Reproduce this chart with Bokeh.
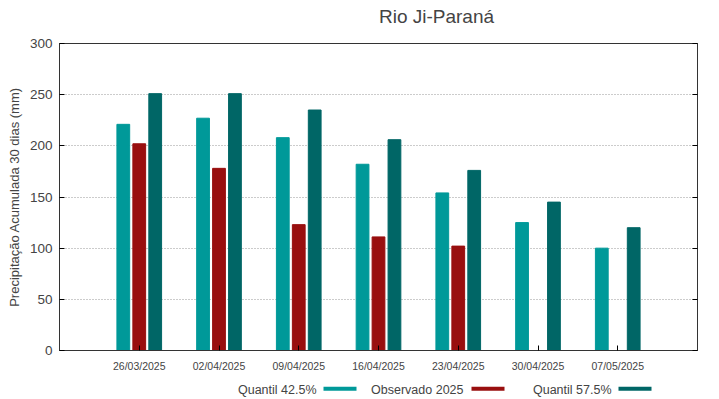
from bokeh.plotting import figure
from bokeh.layouts import column
from bokeh.models import (ColumnDataSource, FactorRange, Range1d, LinearAxis,
                          FixedTicker, Label, BoxAnnotation)
from bokeh.transform import dodge
from bokeh.embed import file_html
from bokeh.resources import INLINE
import numpy as np

title = "Rio Ji-Paraná"
dates = ["26/03/2025", "02/04/2025", "09/04/2025", "16/04/2025",
         "23/04/2025", "30/04/2025", "07/05/2025"]
q425 = [221, 227, 208, 182, 154, 125, 100]
obs2025 = [202, 178, 123, 111, 102, np.nan, np.nan]
q575 = [251, 251, 235, 206, 176, 145, 120]
yticks = [0, 50, 100, 150, 200, 250, 300]

names = ["Quantil 42.5%", "Observado 2025", "Quantil 57.5%"]
colors = ["#009999", "#990f0f", "#006666"]

FONT = "Liberation Sans"
W = 705


def strip_fig(height):
    f = figure(width=W, height=height, title=None, x_range=Range1d(0, 1), y_range=Range1d(0, 1),
               x_axis_location=None, y_axis_location=None, min_border=0,
               output_backend="svg", toolbar_location=None)
    f.outline_line_color = None
    f.grid.grid_line_color = None
    return f


# ---- title strip ----
tfig = strip_fig(30)
tfig.add_layout(Label(x=377, y=14, x_units="screen", y_units="screen", text=title,
                      text_align="center", text_baseline="middle",
                      text_font=FONT, text_font_size="19px"))

# ---- main chart ----
src = ColumnDataSource(dict(date=dates, q425=q425, obs=obs2025, q575=q575))

p = figure(x_range=FactorRange(*dates, range_padding=0.5, range_padding_units="absolute"),
           y_range=Range1d(0, 300), title=None,
           frame_width=638, frame_height=307, output_backend="svg", toolbar_location=None,
           min_border_left=59, min_border_right=8, min_border_top=13, min_border_bottom=30)

w = 0.16
p.vbar(x=dodge("date", -0.2, range=p.x_range), top="q425", width=w, source=src,
       fill_color=colors[0], line_color=colors[0])
p.vbar(x=dodge("date", 0.0, range=p.x_range), top="obs", width=w, source=src,
       fill_color=colors[1], line_color=colors[1])
p.vbar(x=dodge("date", 0.2, range=p.x_range), top="q575", width=w, source=src,
       fill_color=colors[2], line_color=colors[2])

p.outline_line_color = "#333333"
p.outline_line_width = 1

p.xgrid.grid_line_color = None
p.ygrid.grid_line_color = "#999999"
p.ygrid.grid_line_dash = "1 2"
p.ygrid.ticker = FixedTicker(ticks=yticks[1:-1])

p.yaxis.ticker = FixedTicker(ticks=yticks)
p.yaxis.axis_label = "Precipitação Acumulada 30 dias (mm)"
p.yaxis.axis_label_text_font = FONT
p.yaxis.axis_label_text_font_size = "13px"
p.yaxis.axis_label_text_font_style = "normal"
p.yaxis.major_label_text_font = FONT
p.yaxis.major_label_text_font_size = "13.5px"
p.yaxis.major_label_standoff = 7
p.yaxis.major_tick_in = 5
p.yaxis.major_tick_out = 0
p.yaxis.minor_tick_line_color = None
p.yaxis.axis_line_color = "#333333"
p.yaxis.axis_label_standoff = 5

p.xaxis.major_label_text_font = FONT
p.xaxis.major_label_text_font_size = "10.5px"
p.xaxis.major_label_standoff = 9
p.xaxis.major_tick_in = 5
p.xaxis.major_tick_out = 0
p.xaxis.axis_line_color = "#333333"

right = LinearAxis(ticker=FixedTicker(ticks=yticks),
                   major_label_overrides={t: "" for t in yticks},
                   major_tick_in=5, major_tick_out=0, major_label_standoff=0,
                   minor_tick_line_color=None, axis_line_color="#333333")
p.add_layout(right, "right")

# ---- legend strip (gnuplot style: right-justified label, then sample) ----
lfig = strip_fig(19)
text_right = [257, 404, 552]
sw_left = [264, 412, 559]
sw_w = 33
for i in range(3):
    lfig.add_layout(Label(x=text_right[i], y=9.5, x_units="screen", y_units="screen",
                          text=names[i], text_align="right", text_baseline="middle",
                          text_font=FONT, text_font_size="12.5px"))
    lfig.add_layout(BoxAnnotation(left=sw_left[i], right=sw_left[i] + sw_w,
                                  bottom=8.7, top=12.7,
                                  left_units="screen", right_units="screen",
                                  bottom_units="screen", top_units="screen",
                                  fill_color=colors[i], fill_alpha=1, line_color=None))

layout = column(tfig, p, lfig, spacing=0)
open("out.html", "w").write(file_html(layout, INLINE))
